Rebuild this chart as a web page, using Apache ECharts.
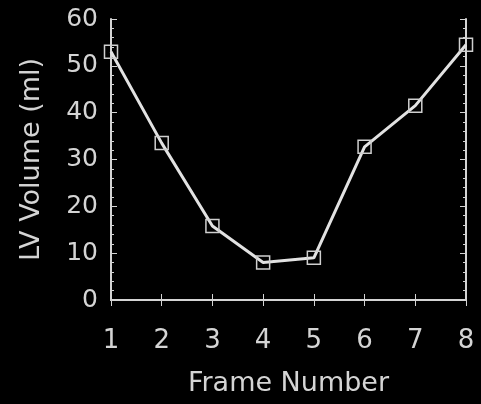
<!DOCTYPE html>
<html>
<head>
<meta charset="utf-8">
<script src="https://cdn.jsdelivr.net/npm/echarts@6/dist/echarts.min.js"></script>
<style>
html,body{margin:0;padding:0;background:#000;}
#chart{width:481px;height:404px;}
</style>
</head>
<body>
<div id="chart"></div>
<script>
var frames = [1, 2, 3, 4, 5, 6, 7, 8];
var lvVolume = [53, 33.5, 15.8, 8, 9, 32.7, 41.5, 54.5];
var xTitle = 'Frame Number';
var yTitle = 'LV Volume (ml)';

var chart = echarts.init(document.getElementById('chart'));
var fg = '#d4d4d4';
var font = 'DejaVu Sans';
var pts = frames.map(function (f, i) { return [f, lvVolume[i]]; });

chart.setOption({
  backgroundColor: '#000',
  animation: false,
  grid: { left: 111, right: 15, top: 19, bottom: 104 },
  xAxis: [{
    type: 'value', min: 1, max: 8, interval: 1, position: 'bottom',
    name: xTitle, nameLocation: 'middle', nameGap: 70,
    nameTextStyle: { color: fg, fontSize: 27, fontFamily: font },
    axisLine: { show: true, lineStyle: { color: fg, width: 2 } },
    axisTick: { show: true, inside: true, length: 6, lineStyle: { color: fg, width: 1 } },
    axisLabel: { color: fg, fontSize: 26, fontFamily: font, margin: 28 },
    splitLine: { show: false }
  }, {
    type: 'value', min: 1, max: 8, interval: 1, position: 'top',
    axisLine: { show: true, lineStyle: { color: fg, width: 2 } },
    axisTick: { show: true, inside: true, length: 6, lineStyle: { color: fg, width: 1 } },
    axisLabel: { show: false },
    splitLine: { show: false }
  }],
  yAxis: [{
    type: 'value', min: 0, max: 60, interval: 10, position: 'left',
    name: yTitle, nameLocation: 'middle', nameGap: 66,
    nameTextStyle: { color: fg, fontSize: 27, fontFamily: font },
    axisLine: { show: true, lineStyle: { color: fg, width: 2 } },
    axisTick: { show: true, inside: true, length: 6, lineStyle: { color: fg, width: 1 } },
    minorTick: { show: true, splitNumber: 5, length: 3, lineStyle: { color: fg, width: 1 } },
    axisLabel: { color: fg, fontSize: 25, fontFamily: font, margin: 13 },
    splitLine: { show: false }
  }, {
    type: 'value', min: 0, max: 60, interval: 10, position: 'right',
    axisLine: { show: true, lineStyle: { color: fg, width: 2 } },
    axisTick: { show: true, inside: true, length: 6, lineStyle: { color: fg, width: 1 } },
    minorTick: { show: true, splitNumber: 5, length: 3, lineStyle: { color: fg, width: 1 } },
    axisLabel: { show: false },
    splitLine: { show: false }
  }],
  series: [{
    type: 'line',
    data: pts,
    xAxisIndex: 0, yAxisIndex: 0,
    symbol: 'rect', symbolSize: 13,
    lineStyle: { color: '#e2e2e2', width: 3 },
    itemStyle: { color: 'rgba(0,0,0,0)', borderColor: '#cfcfcf', borderWidth: 1.5 },
    clip: false
  }]
});
</script>
</body>
</html>
